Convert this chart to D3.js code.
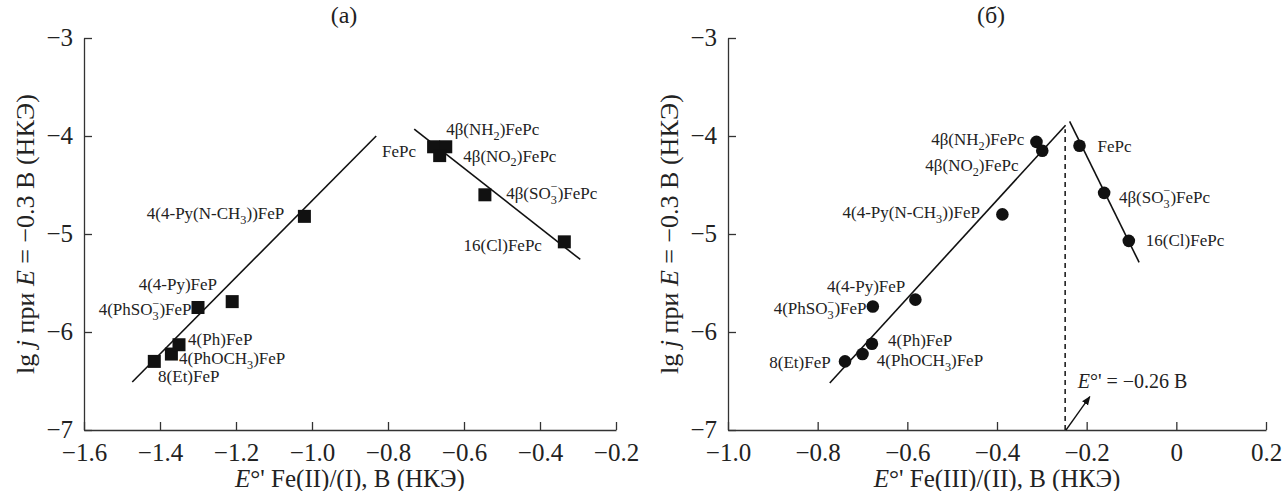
<!DOCTYPE html>
<html>
<head>
<meta charset="utf-8">
<script src="https://cdn.jsdelivr.net/npm/d3@7"></script>
<style>
  body { margin: 0; background: #fff; }
  svg text { font-family: "Liberation Serif", "Times New Roman", "DejaVu Serif", serif; }
</style>
</head>
<body>
<svg id="chart" width="1283" height="491"></svg>
<script>
// ---------- DATA ----------
// Panel (а): E°' Fe(II)/(I) vs lg j
const namesA = ["8(Et)FeP", "4(PhOCH3)FeP", "4(Ph)FeP", "4(PhSO3)FeP", "4(4-Py)FeP",
  "4(4-Py(N-CH3))FeP", "FePc", "4β(NH2)FePc", "4β(NO2)FePc", "4β(SO3)FePc", "16(Cl)FePc"];
const xA = [-1.415, -1.37, -1.35, -1.30, -1.21, -1.02, -0.68, -0.648, -0.664, -0.545, -0.336];
const yA = [-6.30, -6.225, -6.13, -5.75, -5.69, -4.82, -4.11, -4.11, -4.20, -4.60, -5.08];
const lineA1 = [[-1.473, -6.51], [-0.831, -4.0]];
const lineA2 = [[-0.731, -3.93], [-0.294, -5.26]];

// Panel (б): E°' Fe(III)/(II) vs lg j
const namesB = ["8(Et)FeP", "4(PhOCH3)FeP", "4(Ph)FeP", "4(PhSO3)FeP", "4(4-Py)FeP",
  "4(4-Py(N-CH3))FeP", "4β(NH2)FePc", "4β(NO2)FePc", "FePc", "4β(SO3)FePc", "16(Cl)FePc"];
const xB = [-0.739, -0.700, -0.679, -0.677, -0.582, -0.388, -0.312, -0.299, -0.216, -0.161, -0.106];
const yB = [-6.30, -6.225, -6.12, -5.74, -5.67, -4.80, -4.06, -4.15, -4.10, -4.58, -5.07];
const lineB1 = [[-0.773, -6.52], [-0.247, -3.89]];
const lineB2 = [[-0.238, -3.85], [-0.083, -5.29]];
const eZero = -0.248;          // dashed line position
const eZeroLabel = "−0.26 В";

// Tick labels
const xTicksA = [-1.6, -1.4, -1.2, -1.0, -0.8, -0.6, -0.4, -0.2];
const xTickLabelsA = ["−1.6", "−1.4", "−1.2", "−1.0", "−0.8", "−0.6", "−0.4", "−0.2"];
const xTicksB = [-1.0, -0.8, -0.6, -0.4, -0.2, 0, 0.2];
const xTickLabelsB = ["−1.0", "−0.8", "−0.6", "−0.4", "−0.2", "0", "0.2"];
const yTicks = [-7, -6, -5, -4, -3];
const yTickLabels = ["−7", "−6", "−5", "−4", "−3"];

// Label placements (data-space anchor, anchor side)
const labelPosA = {
  "8(Et)FeP": [-1.405, -6.45, "start"],
  "4(PhOCH3)FeP": [-1.35, -6.27, "start"],
  "4(Ph)FeP": [-1.326, -6.07, "start"],
  "4(PhSO3)FeP": [-1.317, -5.77, "end"],
  "4(4-Py)FeP": [-1.353, -5.51, "middle"],
  "4(4-Py(N-CH3))FeP": [-1.073, -4.79, "end"],
  "FePc": [-0.726, -4.15, "end"],
  "4β(NH2)FePc": [-0.647, -3.93, "start"],
  "4β(NO2)FePc": [-0.602, -4.20, "start"],
  "4β(SO3)FePc": [-0.489, -4.58, "start"],
  "16(Cl)FePc": [-0.395, -5.11, "end"]
};
const labelPosB = {
  "8(Et)FeP": [-0.771, -6.31, "end"],
  "4(PhOCH3)FeP": [-0.668, -6.29, "start"],
  "4(Ph)FeP": [-0.643, -6.08, "start"],
  "4(PhSO3)FeP": [-0.691, -5.76, "end"],
  "4(4-Py)FeP": [-0.692, -5.53, "middle"],
  "4(4-Py(N-CH3))FeP": [-0.438, -4.78, "end"],
  "4β(NH2)FePc": [-0.339, -4.03, "end"],
  "4β(NO2)FePc": [-0.352, -4.30, "end"],
  "FePc": [-0.176, -4.10, "start"],
  "4β(SO3)FePc": [-0.128, -4.62, "start"],
  "16(Cl)FePc": [-0.068, -5.06, "start"]
};

// ---------- DRAWING ----------
const FONT = "Liberation Serif, Times New Roman, DejaVu Serif, serif";
const svg = d3.select("#chart").attr("font-family", FONT);
const axisColor = "#333";
const plotTop = 38, plotBottom = 430;

function richLabel(sel, name) {
  const segs = [];
  const parts = name.split(/(NH2|NO2|OCH3|CH3|SO3)/).filter(s => s.length);
  parts.forEach(p => {
    if (p === "NH2" || p === "NO2") {
      segs.push({ t: p.slice(0, 2), lvl: 0 }, { t: "2", lvl: 1 });
    } else if (p === "OCH3" || p === "CH3") {
      segs.push({ t: p.slice(0, -1), lvl: 0 }, { t: "3", lvl: 1 });
    } else if (p === "SO3") {
      segs.push({ t: "SO", lvl: 0 }, { t: "3", lvl: 1 }, { t: "−", lvl: 2, dx: "-0.5em" });
    } else {
      segs.push({ t: p, lvl: 0 });
    }
  });
  const off = { 0: 0, 1: 0.28, 2: -0.45 };
  let cur = 0;
  segs.forEach(s => {
    const target = off[s.lvl];
    const ts = sel.append("tspan").text(s.t);
    const small = s.lvl > 0;
    const fs = small ? 0.72 : 1;
    const d = (target - cur) / fs;
    if (Math.abs(d) > 1e-6) ts.attr("dy", d.toFixed(3) + "em");
    if (small) ts.attr("font-size", "0.72em");
    if (s.dx) ts.attr("dx", s.dx);
    cur = target;
  });
}

function panel(opts) {
  const g = svg.append("g");
  const x = d3.scaleLinear().domain(opts.xDomain).range([opts.left, opts.right]);
  const y = d3.scaleLinear().domain([-7, -3]).range([plotBottom, plotTop]);

  const xAxis = d3.axisBottom(x).tickValues(opts.xTicks)
    .tickFormat((d, i) => opts.xTickLabels[i]).tickSizeInner(-8).tickSizeOuter(0).tickPadding(13);
  const yAxis = d3.axisLeft(y).tickValues(yTicks)
    .tickFormat((d, i) => yTickLabels[i]).tickSizeInner(-8).tickSizeOuter(0).tickPadding(11);

  const gx = g.append("g").attr("transform", `translate(0,${plotBottom})`).call(xAxis);
  const gy = g.append("g").attr("transform", `translate(${opts.left},0)`).call(yAxis);
  [gx, gy].forEach(a => {
    a.attr("font-family", FONT).attr("font-size", 25);
    a.select(".domain").attr("stroke", axisColor).attr("stroke-width", 1.3);
    a.selectAll(".tick line").attr("stroke", axisColor).attr("stroke-width", 1.3);
    a.selectAll(".tick text").attr("fill", "#222");
  });
  gy.selectAll(".tick text").attr("dy", "0.3em");
  gx.selectAll(".tick text").attr("dy", "0.71em");

  g.append("text").attr("x", (opts.left + opts.right) / 2 - 6).attr("y", 23)
    .attr("text-anchor", "middle").attr("font-size", 24).attr("fill", "#222").text(opts.title);

  const xt = g.append("text").attr("x", (opts.left + opts.right) / 2).attr("y", plotBottom + 57)
    .attr("text-anchor", "middle").attr("font-size", 25).attr("fill", "#222");
  xt.append("tspan").attr("font-style", "italic").text("E");
  xt.append("tspan").text("°' " + opts.xTitle);

  const yt = g.append("text")
    .attr("transform", `translate(${opts.left - 50},${(plotTop + plotBottom) / 2}) rotate(-90)`)
    .attr("text-anchor", "middle").attr("font-size", 26).attr("fill", "#222");
  yt.append("tspan").text("lg ");
  yt.append("tspan").attr("font-style", "italic").text("j");
  yt.append("tspan").text(" при ");
  yt.append("tspan").attr("font-style", "italic").text("E");
  yt.append("tspan").text(" = −0.3 В (НКЭ)");

  const line = d3.line().x(d => x(d[0])).y(d => y(d[1]));
  opts.lines.forEach(l => {
    g.append("path").attr("d", line(l)).attr("fill", "none")
      .attr("stroke", "#111").attr("stroke-width", 1.6);
  });

  if (opts.extra) opts.extra(g, x, y);

  const pts = opts.xs.map((v, i) => ({ x: v, y: opts.ys[i], name: opts.names[i] }));
  if (opts.marker === "square") {
    g.selectAll("rect.pt").data(pts).enter().append("rect")
      .attr("x", d => x(d.x) - 6.5).attr("y", d => y(d.y) - 6.5)
      .attr("width", 13).attr("height", 13).attr("fill", "#111");
  } else {
    g.selectAll("circle.pt").data(pts).enter().append("circle")
      .attr("cx", d => x(d.x)).attr("cy", d => y(d.y)).attr("r", 6.3).attr("fill", "#111");
  }

  opts.names.forEach(n => {
    const p = opts.labelPos[n];
    const t = g.append("text").attr("x", x(p[0])).attr("y", y(p[1]) + 6)
      .attr("text-anchor", p[2]).attr("font-size", 17).attr("fill", "#222");
    richLabel(t, n);
  });
}

panel({
  left: 84, right: 616, xDomain: [-1.6, -0.2], xTicks: xTicksA, xTickLabels: xTickLabelsA,
  title: "(а)", xTitle: "Fe(II)/(I), В (НКЭ)", lines: [lineA1, lineA2],
  xs: xA, ys: yA, names: namesA, labelPos: labelPosA, marker: "square"
});

panel({
  left: 728, right: 1266, xDomain: [-1.0, 0.2], xTicks: xTicksB, xTickLabels: xTickLabelsB,
  title: "(б)", xTitle: "Fe(III)/(II), В (НКЭ)", lines: [lineB1, lineB2],
  xs: xB, ys: yB, names: namesB, labelPos: labelPosB, marker: "circle",
  extra: (g, x, y) => {
    g.append("line").attr("x1", x(eZero)).attr("x2", x(eZero))
      .attr("y1", y(-7)).attr("y2", y(-3.93))
      .attr("stroke", "#111").attr("stroke-width", 1.5).attr("stroke-dasharray", "5,4");
    const defs = svg.append("defs");
    defs.append("marker").attr("id", "arr").attr("viewBox", "0 0 10 10")
      .attr("refX", 9).attr("refY", 5).attr("markerWidth", 7).attr("markerHeight", 7)
      .attr("orient", "auto")
      .append("path").attr("d", "M0,1 L10,5 L0,9 Z").attr("fill", "#111");
    g.append("line").attr("x1", x(-0.246)).attr("y1", y(-7))
      .attr("x2", x(-0.193)).attr("y2", y(-6.66))
      .attr("stroke", "#111").attr("stroke-width", 1.3).attr("marker-end", "url(#arr)");
    const t = g.append("text").attr("x", x(-0.22)).attr("y", y(-6.505) + 7)
      .attr("font-size", 20).attr("fill", "#222");
    t.append("tspan").attr("font-style", "italic").text("E");
    t.append("tspan").text("°' = " + eZeroLabel);
  }
});
</script>
</body>
</html>
